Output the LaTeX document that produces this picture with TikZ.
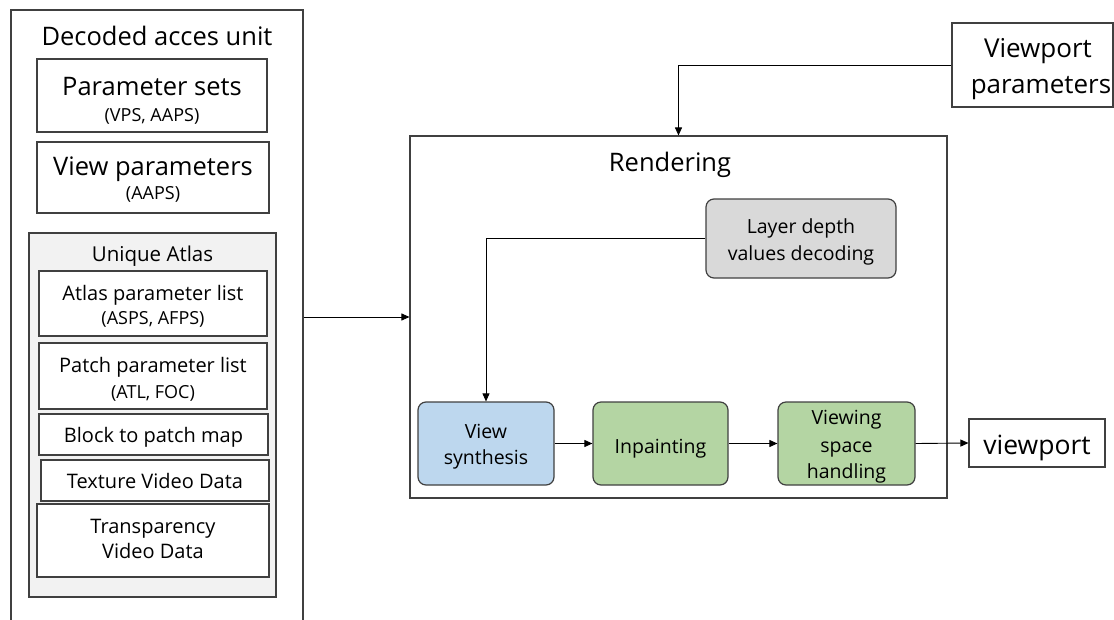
\documentclass[tikz,border=0pt]{standalone}
\usepackage{fontspec}
\setmainfont{Open Sans}
\usetikzlibrary{arrows.meta}
\definecolor{edgec}{HTML}{404040}
\definecolor{atlasfill}{HTML}{F2F2F2}
\definecolor{grayfill}{HTML}{D9D9D9}
\definecolor{bluefill}{HTML}{BDD7EE}
\definecolor{greenfill}{HTML}{B4D5A3}
\begin{document}
\begin{tikzpicture}[x=1pt,y=-1pt,
  sq/.style={draw=edgec, line width=1.1pt, rectangle, inner sep=0pt},
  rnd/.style={draw=edgec, line width=1.2pt, rectangle, rounded corners=8pt, inner sep=0pt},
  arr/.style={-{Triangle[length=8pt,width=7pt]}, line width=0.9pt, draw=black},
  txt/.style={inner sep=0pt, anchor=base},
  fbig/.style={font=\fontsize{25.5}{30}\selectfont},
  fsmall/.style={font=\fontsize{18}{22}\selectfont},
  flist/.style={font=\fontsize{20}{24}\selectfont},
  fround/.style={font=\fontsize{19.5}{24}\selectfont},
  fvp/.style={font=\fontsize{26}{30}\selectfont}
]
\useasboundingbox (0,0) rectangle (1114,619);
% left column
\node[sq, minimum width=292pt, minimum height=630pt] (dau) at (157,325) {};
\node[txt, fbig] (daut) at (157,45) {Decoded acces unit};
\node[sq, minimum width=230pt, minimum height=73pt] (ps) at (152,95.5) {};
\node[txt, fbig] (pst) at (152,95) {Parameter sets};
\node[txt, fsmall] (pss) at (152,121) {(VPS, AAPS)};
\node[sq, minimum width=232pt, minimum height=71pt] (vp) at (153,177.5) {};
\node[txt, fbig] (vpt) at (153,175) {View parameters};
\node[txt, fsmall] (vps) at (153,199) {(AAPS)};
\node[sq, fill=atlasfill, minimum width=247pt, minimum height=364pt] (ua) at (152.5,415) {};
\node[txt, font=\fontsize{20.5}{24}\selectfont] (uat) at (152.5,261) {Unique Atlas};
\node[sq, minimum width=228pt, minimum height=65pt, fill=white] (apl) at (153,303.5) {};
\node[txt, flist] (aplt) at (153,300) {Atlas parameter list};
\node[txt, fsmall] (apls) at (153,324) {(ASPS, AFPS)};
\node[sq, minimum width=228pt, minimum height=66pt, fill=white] (ppl) at (153,376) {};
\node[txt, flist] (pplt) at (153,372) {Patch parameter list};
\node[txt, fsmall] (ppls) at (153,398) {(ATL, FOC)};
\node[sq, minimum width=229pt, minimum height=41pt, fill=white] (bpm) at (153.5,434.5) {};
\node[txt, flist] (bpmt) at (153.5,442) {Block to patch map};
\node[sq, minimum width=228pt, minimum height=41pt, fill=white] (tvd) at (155,480.5) {};
\node[txt, flist] (tvdt) at (155,488) {Texture Video Data};
\node[sq, minimum width=232pt, minimum height=73pt, fill=white] (trd) at (153,540.5) {};
\node[txt, flist] (trdt1) at (153,533) {Transparency};
\node[txt, flist] (trdt2) at (153,558) {Video Data};
% rendering
\node[sq, minimum width=537pt, minimum height=362pt] (rend) at (678.5,317) {};
\node[txt, fbig] (rendt) at (670,171) {Rendering};
\node[sq, minimum width=161pt, minimum height=84pt] (vpp) at (1032.5,65) {};
\node[txt, fvp] (vppt1) at (1038,57) {Viewport};
\node[txt, fvp] (vppt2) at (1041,93) {parameters};
\node[rnd, fill=grayfill, minimum width=190pt, minimum height=79pt] (ldv) at (801,238.5) {};
\node[txt, fround] (ldvt1) at (801,233) {Layer depth};
\node[txt, fround] (ldvt2) at (801,260) {values decoding};
\node[rnd, fill=bluefill, minimum width=136pt, minimum height=83pt] (vs) at (486,443.5) {};
\node[txt, fround] (vst1) at (486,438) {View};
\node[txt, fround] (vst2) at (486,464) {synthesis};
\node[rnd, fill=greenfill, minimum width=135pt, minimum height=83pt] (inp) at (660.5,443.5) {};
\node[txt, fround] (inpt) at (660.5,453) {Inpainting};
\node[rnd, fill=greenfill, minimum width=137pt, minimum height=83pt] (vsh) at (846.5,443.5) {};
\node[txt, fround] (vsht1) at (846.5,424) {Viewing};
\node[txt, fround] (vsht2) at (846.5,452) {space};
\node[txt, fround] (vsht3) at (846.5,478) {handling};
\node[sq, minimum width=136pt, minimum height=48pt] (vport) at (1037,443) {};
\node[txt, font=\fontsize{26.5}{30}\selectfont] (vportt) at (1037,454) {viewport};
% connectors
\draw[arr] (dau.east |- rend.west) -- (rend.west);
\draw[arr] (vpp.west) -| (rend.north);
\draw[arr] (ldv.west) -| (vs.north);
\draw[arr] (vs.east) -- (inp.west);
\draw[arr] (inp.east) -- (vsh.west);
\draw[arr] (vsh.east) -- (vport.west);
\end{tikzpicture}
\end{document}
